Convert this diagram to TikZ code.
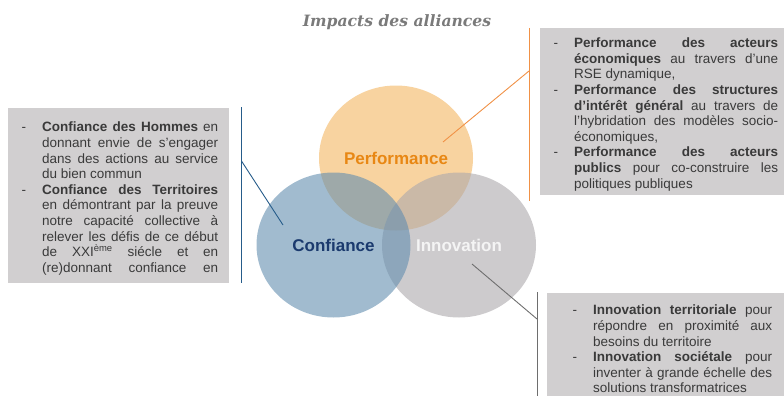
\documentclass[tikz,border=0pt]{standalone}
\usepackage{fontspec}
\setmainfont{Liberation Sans}
\newfontfamily\titrefont{DejaVu Serif}
\usetikzlibrary{shapes.geometric}

\definecolor{perfOrange}{HTML}{F3B661}
\definecolor{confBleu}{HTML}{628EAF}
\definecolor{innoGris}{HTML}{ACA8AC}
\definecolor{boiteGris}{HTML}{D1CFD0}
\definecolor{texteGris}{HTML}{3A3A3A}

\newcommand{\reglages}{\tolerance=9999\relax\hyphenpenalty=10000\relax\exhyphenpenalty=10000\relax}
\newcommand{\tiret}{\par\noindent\hangindent=23pt\hangafter=1\makebox[23pt][l]{\hspace{2.5pt}-}}

\begin{document}
\begin{tikzpicture}
        [
            x=1pt, y=-1pt,
            rond/.style={ellipse, minimum width=154pt, minimum height=145pt, inner sep=0pt, fill opacity=0.6},
            etiquette/.style={font=\fontsize{17}{20}\selectfont\bfseries},
            boite/.style={fill=boiteGris, anchor=north west, inner xsep=11pt, inner ysep=4pt, align=justify,
                text=texteGris, font=\fontsize{13.5}{15.6}\selectfont\reglages},
            trait/.style={line width=0.9pt},
        ]
        \useasboundingbox (0,0) rectangle (784,396);

        \node (titre) at (397,22) {\titrefont\bfseries\itshape\fontsize{15.6}{18}\selectfont\color[HTML]{7A7A7A}Impacts des alliances};

        % les trois cercles
        \node (perf) [rond, fill=perfOrange] at (396,158) {};
        \node (inno) [rond, fill=innoGris] at (459,245) {};
        \node (conf) [rond, fill=confBleu] at (333.5,245) {};

        \node (perfTxt) [etiquette, text={rgb,255:red,232;green,135;blue,20}] at (perf) {Performance};
        \node (confTxt) [etiquette, text={rgb,255:red,27;green,58;blue,110}] at (conf) {Confiance};
        \node (innoTxt) [etiquette, text={rgb,255:red,244;green,244;blue,244}] at (inno) {Innovation};

        % les encadres
        \node (boiteConf) [boite, text width=199pt, minimum height=175pt] at (8,108) {%
            \tiret\textbf{Confiance des Hommes} en\linebreak donnant envie de s’engager\linebreak dans des actions au service\linebreak du bien commun
            \tiret\textbf{Confiance des Territoires}\linebreak en démontrant par la preuve\linebreak notre capacité collective à\linebreak relever les défis de ce début\linebreak de XXI\textsuperscript{ème} siécle et en\linebreak (re)donnant confiance en{\parfillskip=0pt\par}};
        \node (boitePerf) [boite, text width=227pt, minimum height=164pt] at (540,28) {%
            \tiret\textbf{Performance des acteurs\linebreak économiques} au travers d’une\linebreak RSE dynamique,
            \tiret\textbf{Performance des structures\linebreak d’intérêt général} au travers de\linebreak l’hybridation des modèles socio-\linebreak économiques,
            \tiret\textbf{Performance des acteurs\linebreak publics} pour co-construire les\linebreak politiques publiques\par};
        \node (boiteInno) [boite, text width=202pt, inner xsep=23pt, inner ysep=6pt] at (547,293) {%
            \tiret\textbf{Innovation territoriale} pour\linebreak répondre en proximité aux\linebreak besoins du territoire
            \tiret\textbf{Innovation sociétale} pour\linebreak inventer à grande échelle des\linebreak solutions transformatrices\par\vspace*{6pt}};

        % les traits de rappel
        \coordinate (confHaut) at (241.5,107);
        \coordinate (confBas) at (241.5,283);
        \coordinate (confCoude) at (241.5,161);
        \coordinate (confPointe) at (283,225);
        \draw[trait, draw={rgb,255:red,38;green,92;blue,138}] (confHaut) -- (confBas);
        \draw[trait, draw={rgb,255:red,38;green,92;blue,138}] (confCoude) -- (confPointe);

        \coordinate (perfHaut) at (529,28);
        \coordinate (perfBas) at (529,201);
        \coordinate (perfCoude) at (529,71);
        \coordinate (perfPointe) at (443,142);
        \draw[trait, draw={rgb,255:red,240;green,145;blue,70}] (perfHaut) -- (perfBas);
        \draw[trait, draw={rgb,255:red,240;green,145;blue,70}] (perfCoude) -- (perfPointe);

        \coordinate (innoHaut) at (537,292);
        \coordinate (innoBas) at (537,396);
        \coordinate (innoCoude) at (537,319);
        \coordinate (innoPointe) at (472,264);
        \draw[trait, draw={rgb,255:red,110;green,110;blue,110}] (innoHaut) -- (innoBas);
        \draw[trait, draw={rgb,255:red,110;green,110;blue,110}] (innoCoude) -- (innoPointe);
\end{tikzpicture}
\end{document}
